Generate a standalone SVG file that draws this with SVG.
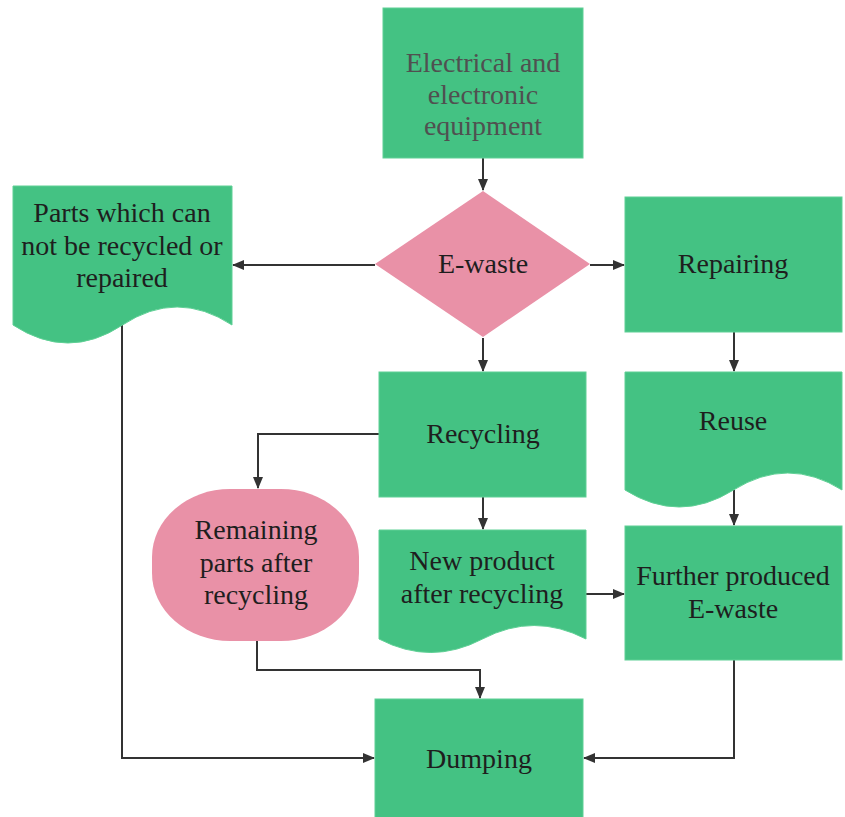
<svg xmlns="http://www.w3.org/2000/svg" width="845" height="817" viewBox="0 0 845 817">
<defs>
<style>
.g{fill:#44c283;stroke:#5fd095;stroke-width:1}
.p{fill:#e991a7}
text{font-family:'Liberation Serif','Times New Roman',serif;font-size:28px;fill:#1e1e1e;text-anchor:middle}
.t0{fill:#505050}
.c{fill:none;stroke:#333;stroke-width:2}
</style>
<marker id="ah" viewBox="0 0 12 12" refX="11" refY="6" markerWidth="12" markerHeight="12" markerUnits="userSpaceOnUse" orient="auto">
<path d="M0,1 L12,6 L0,11 Z" fill="#333"/>
</marker>
</defs>
<rect width="845" height="817" fill="#fff"/>
<g id="connectors">
<path class="c" d="M483,158 V190" marker-end="url(#ah)"/>
<path class="c" d="M375,265 H233" marker-end="url(#ah)"/>
<path class="c" d="M590,265 H624" marker-end="url(#ah)"/>
<path class="c" d="M483,338 V371" marker-end="url(#ah)"/>
<path class="c" d="M734,332 V371" marker-end="url(#ah)"/>
<path class="c" d="M734,490 V525" marker-end="url(#ah)"/>
<path class="c" d="M379,434 H258 V488" marker-end="url(#ah)"/>
<path class="c" d="M483,497 V529" marker-end="url(#ah)"/>
<path class="c" d="M586,594 H624" marker-end="url(#ah)"/>
<path class="c" d="M257,641 V670 H480 V698" marker-end="url(#ah)"/>
<path class="c" d="M122,325 V758 H374" marker-end="url(#ah)"/>
<path class="c" d="M734,660 V758 H584" marker-end="url(#ah)"/>
</g>
<g id="equipment">
<rect class="g" x="383" y="8" width="200" height="150"/>
<text class="t0" x="483" y="72">Electrical and</text>
<text class="t0" x="483" y="104">electronic</text>
<text class="t0" x="483" y="135">equipment</text>
</g>
<g id="ewaste">
<path class="p" d="M483,191 L590,264 L483,337 L375,264 Z"/>
<text x="483" y="273">E-waste</text>
</g>
<g id="parts">
<path class="g" d="M13,186 H232 V325 Q177,289 122.5,325 Q68,361 13,325 Z"/>
<text x="122" y="222">Parts which can</text>
<text x="122" y="255">not be recycled or</text>
<text x="122" y="287">repaired</text>
</g>
<g id="repairing">
<rect class="g" x="625" y="197" width="217" height="135"/>
<text x="733" y="273">Repairing</text>
</g>
<g id="recycling">
<rect class="g" x="379" y="372" width="207" height="125"/>
<text x="483" y="443">Recycling</text>
</g>
<g id="reuse">
<path class="g" d="M625,372 H842 V490 Q787.75,456 733.5,490 Q679.25,524 625,490 Z"/>
<text x="733" y="430">Reuse</text>
</g>
<g id="remaining">
<rect class="p" x="152" y="489" width="207" height="152" rx="78" ry="68"/>
<text x="256" y="539">Remaining</text>
<text x="256" y="572">parts after</text>
<text x="256" y="604">recycling</text>
</g>
<g id="newproduct">
<path class="g" d="M379,530 H586 V639 Q534,612 482.5,639 Q431,666 379,639 Z"/>
<text x="482" y="570">New product</text>
<text x="482" y="603">after recycling</text>
</g>
<g id="further">
<rect class="g" x="625" y="526" width="217" height="134"/>
<text x="733" y="585">Further produced</text>
<text x="733" y="618">E-waste</text>
</g>
<g id="dumping">
<rect class="g" x="375" y="699" width="208" height="130"/>
<text x="479" y="768">Dumping</text>
</g>
</svg>
